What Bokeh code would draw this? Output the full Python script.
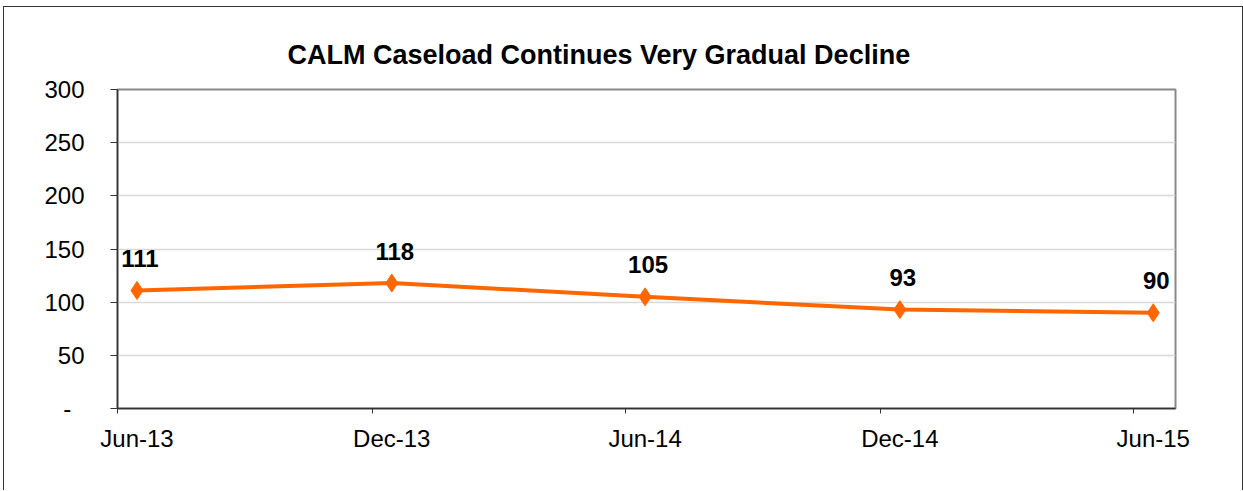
import pandas as pd
from bokeh.plotting import figure
from bokeh.models import Range1d, FixedTicker, ColumnDataSource, Title
from bokeh.core.properties import value
from bokeh.embed import file_html
from bokeh.resources import INLINE

# ---- data ----
title_text = "CALM Caseload Continues Very Gradual Decline"
dates = ["2013-06-15", "2013-12-15", "2014-06-15", "2014-12-15", "2015-06-15"]
caseload = [111, 118, 105, 93, 90]
tick_dates = ["2013-06-01", "2013-12-01", "2014-06-01", "2014-12-01", "2015-06-01"]
tick_labels = ["Jun-13", "Dec-13", "Jun-14", "Dec-14", "Jun-15"]
y_ticks = [0, 50, 100, 150, 200, 250, 300]
y_labels = ["-\u00a0\u00a0", "50", "100", "150", "200", "250", "300"]
x_start, x_end = "2013-06-01", "2015-07-01"

def ms(d):
    return pd.Timestamp(d).value / 1e6

FONT = "Liberation Sans"
ORANGE = "#FF6600"

src = ColumnDataSource(dict(x=[ms(d) for d in dates], y=caseload,
                            lab=[str(v) for v in caseload]))

p = figure(width=1238, height=484, output_backend="svg", toolbar_location=None,
           x_axis_type="datetime",
           x_range=Range1d(ms(x_start), ms(x_end)), y_range=Range1d(0, 300),
           min_border_left=113, min_border_right=67, min_border_top=82,
           min_border_bottom=83)

t = Title(text=title_text, align="left", offset=170,
          text_font=FONT, text_font_size="27px", text_font_style="bold",
          text_color="#000000", standoff=40)
p.add_layout(t, "above")

p.styles = {"margin-left": "4px", "margin-top": "7px",
            "box-shadow": "-1px -1px 0 #333, 1px -1px 0 #333"}

p.outline_line_color = "#898989"
p.outline_line_width = 2

# grid
p.xgrid.grid_line_color = None
p.ygrid.grid_line_color = "#d9d9d9"
p.ygrid.grid_line_width = 1.5
p.ygrid.ticker = FixedTicker(ticks=y_ticks)

# axes
p.yaxis.ticker = FixedTicker(ticks=y_ticks)
p.yaxis.major_label_overrides = {t_: l for t_, l in zip(y_ticks, y_labels)}
# labels sit under the data points (mid-month); tick marks at month starts
p.xaxis.ticker = FixedTicker(ticks=[ms(d) for d in dates],
                             minor_ticks=[ms(d) for d in tick_dates])
p.xaxis.major_label_overrides = {ms(d): l for d, l in zip(dates, tick_labels)}

for ax in (p.xaxis[0], p.yaxis[0]):
    ax.axis_line_color = "#333333"
    ax.axis_line_width = 1.5
    ax.major_tick_line_color = "#333333"
    ax.major_tick_line_width = 1
    ax.major_tick_in = 0
    ax.minor_tick_line_color = None
    ax.major_label_text_font = FONT
    ax.major_label_text_font_size = "24px"
    ax.major_label_text_color = "#000000"
p.yaxis.major_tick_out = 7
p.yaxis.major_label_standoff = 26
p.xaxis.major_tick_out = 0
p.xaxis.minor_tick_line_color = "#333333"
p.xaxis.minor_tick_line_width = 1
p.xaxis.minor_tick_in = 0
p.xaxis.minor_tick_out = 5
p.xaxis.major_label_standoff = 11

p.line("x", "y", source=src, line_color=ORANGE, line_width=4)
p.scatter("x", "y", source=src, marker="diamond", size=18,
          fill_color=ORANGE, line_color=ORANGE)
p.text("x", "y", text="lab", source=src, x_offset=3, y_offset=-32,
       text_align="center", text_baseline="alphabetic",
       text_font=value(FONT), text_font_size="24px", text_font_style="bold",
       text_color="#000000")

open("out.html", "w").write(file_html(p, INLINE))
